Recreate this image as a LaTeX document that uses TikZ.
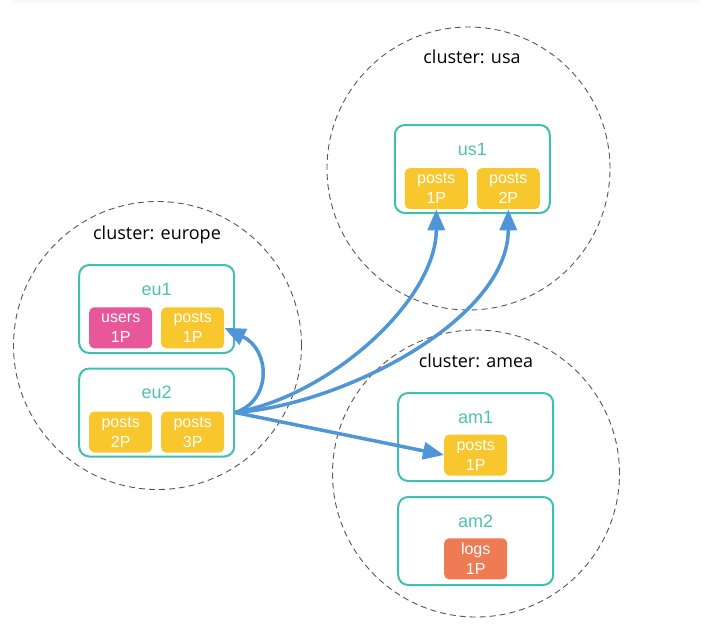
\documentclass[tikz,border=0pt]{standalone}
\usepackage{fontspec}
\setmainfont{Liberation Sans}
\newfontfamily\clusterfont{Open Sans}
\usetikzlibrary{arrows.meta}
\definecolor{teal1}{HTML}{3FBFB0}
\definecolor{tealtxt}{HTML}{4CC2B2}
\definecolor{chipy}{HTML}{F8C72E}
\definecolor{chipp}{HTML}{E8579A}
\definecolor{chipo}{HTML}{EF7B55}
\definecolor{arrowb}{HTML}{4E96D7}
\definecolor{dashg}{HTML}{555555}
\definecolor{topstrip}{HTML}{F8F8F8}
\begin{document}
\begin{tikzpicture}[x=1pt,y=-1pt,
  cluster/.style={circle,draw=dashg,line width=0.9pt,dash pattern=on 6pt off 4pt,inner sep=0pt},
  clabel/.style={font=\clusterfont\fontsize{18}{22}\selectfont,anchor=base,inner sep=0pt},
  host/.style={draw=teal1,line width=2pt,rounded corners=10pt,minimum width=155pt,minimum height=88pt,inner sep=0pt},
  htitle/.style={text=tealtxt,font=\fontsize{18}{22}\selectfont,anchor=base,inner sep=0pt},
  chip/.style={fill=#1,rounded corners=5pt,minimum width=63pt,minimum height=41pt,inner sep=0pt,text=white,align=center,font=\fontsize{16}{20}\selectfont},
  link/.style={draw=arrowb,line width=3.5pt,-{Triangle[length=21pt,width=17pt]}}
]
\useasboundingbox (0,0) rectangle (710,625);
\fill[topstrip] (11,0) rectangle (700,3);

% clusters
\node[cluster,minimum size=288pt] (ceu) at (157.5,345.5) {};
\node[cluster,minimum size=283pt] (cus) at (468.5,168.5) {};
\node[cluster,minimum size=287pt] (cam) at (476,473.5) {};
\node[clabel] (leu) at (157,239.3) {cluster: europe};
\node[clabel] (lus) at (472,63.3) {cluster: usa};
\node[clabel] (lam) at (476,367.7) {cluster: amea};

% hosts
\node[host] (eu1) at (156.7,309) {};
\node[host] (eu2) at (156.7,412.5) {};
\node[host] (us1) at (472.3,169) {};
\node[host] (am1) at (475.7,437) {};
\node[host] (am2) at (475.7,541) {};
\node[htitle] (teu1) at (156.7,295.3) {eu1};
\node[htitle] (teu2) at (156.7,398.8) {eu2};
\node[htitle] (tus1) at (472.3,155.5) {us1};
\node[htitle] (tam1) at (475.7,423.3) {am1};
\node[htitle] (tam2) at (475.7,527.3) {am2};

% shards
\node[chip=chipp] (ue1) at (120.7,327.8) {users\\1P};
\node[chip=chipy] (pe1) at (192.7,327.8) {posts\\1P};
\node[chip=chipy] (pe2) at (120.7,432) {posts\\2P};
\node[chip=chipy] (pe3) at (192.7,432) {posts\\3P};
\node[chip=chipy] (pu1) at (436.3,188.6) {posts\\1P};
\node[chip=chipy] (pu2) at (508.3,188.6) {posts\\2P};
\node[chip=chipy] (pa1) at (475.7,455) {posts\\1P};
\node[chip=chipo] (la1) at (475.7,558.8) {logs\\1P};

% links
\draw[link] (eu2.east) .. controls +(37,-12) and +(46,22) .. (pe1.east);
\draw[link] (eu2.east) .. controls +(95,-17) and +(0,91) .. (pu1.south);
\draw[link] (eu2.east) .. controls +(105,-7) and +(0,111) .. (pu2.south);
\draw[link] (eu2.east) -- (pa1.west);
\end{tikzpicture}
\end{document}
